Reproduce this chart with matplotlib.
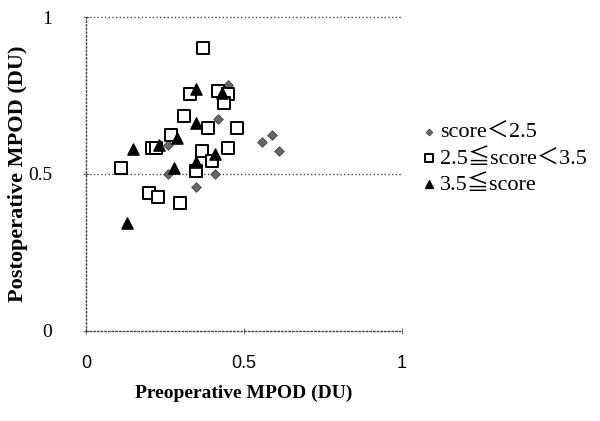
import matplotlib.pyplot as plt

# score < 2.5
low_x = [0.448, 0.417, 0.258, 0.258, 0.408, 0.347, 0.558, 0.590, 0.611]
low_y = [0.783, 0.675, 0.592, 0.500, 0.500, 0.460, 0.603, 0.624, 0.574]

# 2.5 <= score < 3.5
mid_x = [0.369, 0.329, 0.417, 0.450, 0.438, 0.310, 0.387, 0.478, 0.269,
         0.209, 0.222, 0.368, 0.448, 0.399, 0.110, 0.347, 0.198, 0.229, 0.298]
mid_y = [0.902, 0.754, 0.764, 0.754, 0.725, 0.685, 0.646, 0.646, 0.624,
         0.584, 0.584, 0.573, 0.584, 0.541, 0.520, 0.510, 0.438, 0.428, 0.409]

# 3.5 <= score
high_x = [0.348, 0.431, 0.348, 0.289, 0.231, 0.150, 0.408, 0.348, 0.279, 0.130]
high_y = [0.771, 0.757, 0.661, 0.614, 0.592, 0.579, 0.563, 0.539, 0.518, 0.343]

labels = ['score\uff1c2.5', '2.5\u2266score\uff1c3.5', '3.5\u2266score']
ticks = [0, 0.5, 1]
tick_labels = ['0', '0.5', '1']

fig = plt.figure(figsize=(6, 4.21), dpi=100)
ax = fig.add_axes([0.1433, 0.2138, 0.5267, 0.7458])

ax.scatter(low_x, low_y, marker='D', s=24, color='#666666', edgecolors='#444444',
           linewidths=0.6, label=labels[0], zorder=3)
ax.scatter(mid_x, mid_y, marker='s', s=70, facecolors='white', edgecolors='black',
           linewidths=1.4, label=labels[1], zorder=3)
ax.scatter(high_x, high_y, marker='^', s=65, color='black', label=labels[2], zorder=4)

ax.set_xlim(0, 1)
ax.set_ylim(0, 1)
ax.set_xticks(ticks)
ax.set_yticks(ticks)
ax.set_xticklabels(tick_labels, family='Liberation Sans', fontsize=13)
ax.set_yticklabels(tick_labels, family='Liberation Serif', fontsize=14)

for s in ['top', 'right']:
    ax.spines[s].set_visible(False)
for s in ['left', 'bottom']:
    ax.spines[s].set_linestyle(':')
    ax.spines[s].set_linewidth(1.0)
    ax.spines[s].set_color('#444444')

for yv in [0.5, 1]:
    ax.axhline(yv, color='#444444', linestyle=':', linewidth=1.0, zorder=1, clip_on=False)

ax.tick_params(axis='both', direction='inout', length=5, width=0.7, color='#666666')
ax.tick_params(axis='x', pad=15)
ax.tick_params(axis='y', pad=22)

ax.set_xlabel('Preoperative MPOD (DU)', family='Liberation Serif', fontweight='bold',
              fontsize=14, labelpad=9)
ax.set_ylabel('Postoperative MPOD (DU)', family='Liberation Serif', fontweight='bold',
              fontsize=16, labelpad=0)

leg = ax.legend(loc='center left', bbox_to_anchor=(1.0, 0.548), frameon=False,
                handletextpad=0.0, labelspacing=0.25, handlelength=1.0,
                markerscale=0.7, borderaxespad=0.3,
                prop={'family': ['Liberation Serif', 'Noto Sans CJK JP'], 'size': 16})

fig.savefig('out.png', dpi=100)
